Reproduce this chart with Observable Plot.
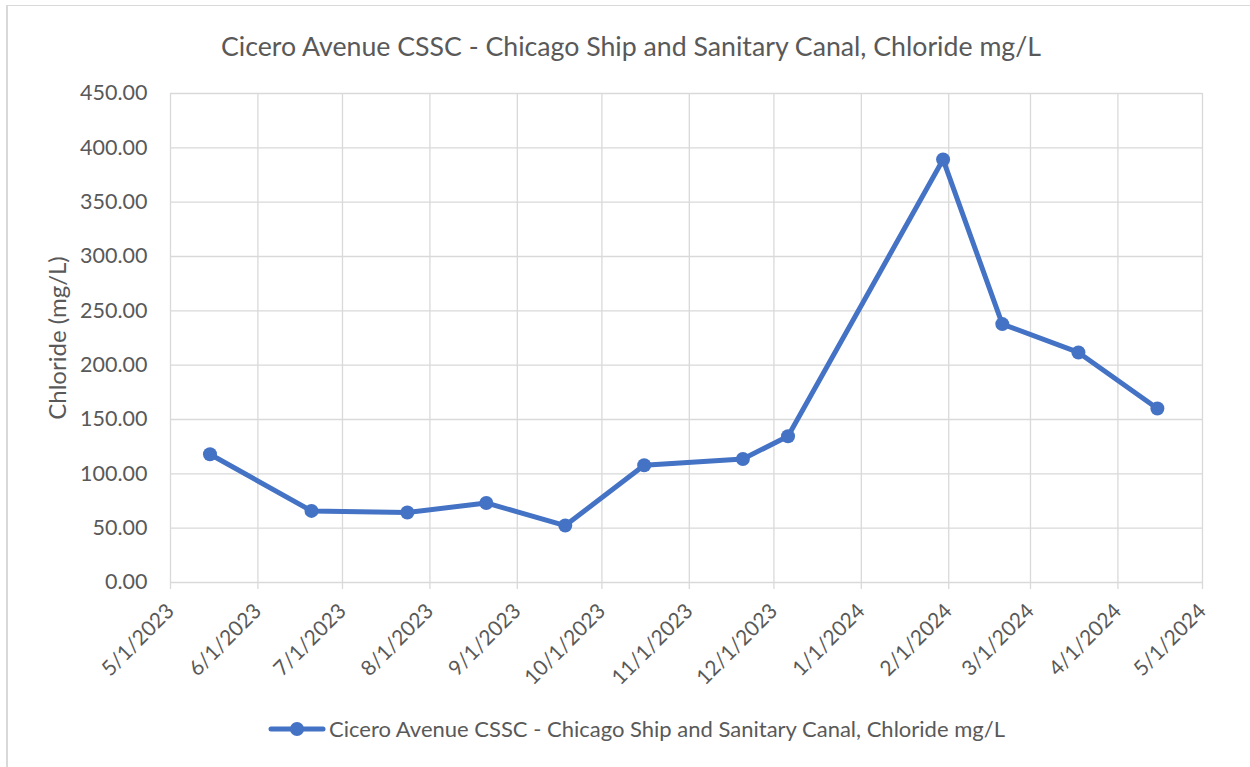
<!DOCTYPE html>
<html><head><meta charset="utf-8">
<script src="https://cdn.jsdelivr.net/npm/d3@7"></script>
<script src="https://cdn.jsdelivr.net/npm/@observablehq/plot@0.6"></script>
<style>
body{margin:0;background:#fff;font-family:Lato,"Open Sans",sans-serif;color:#595959;}
#frame{position:relative;width:1250px;height:767px;overflow:hidden;background:#fff;}
#border{position:absolute;left:6px;top:5px;width:1300px;height:800px;border-top:1.5px solid #d9d9d9;border-left:2px solid #d9d9d9;pointer-events:none;}
#title{height:80px;line-height:92px;text-align:center;font-size:26.7px;padding-left:12px;white-space:nowrap;}
#chart svg{display:block;}
#legend{height:67px;display:flex;align-items:center;padding-left:268px;font-size:22px;white-space:nowrap;margin-top:-5px;}
#legend svg{margin-right:3px;}
</style></head>
<body>
<div id="frame">
<div id="title"></div>
<div id="chart"></div>
<div id="legend"></div>
<div id="border"></div>
</div>
<script>
const seriesName = "Cicero Avenue CSSC - Chicago Ship and Sanitary Canal, Chloride mg/L";
const yLabel = "Chloride (mg/L)";
const sampleDates = ["2023-05-15","2023-06-20","2023-07-24","2023-08-21","2023-09-18","2023-10-16","2023-11-20","2023-12-06","2024-01-30","2024-02-20","2024-03-18","2024-04-15"];
const chlorideValues = [118.0, 65.9, 64.4, 73.2, 52.4, 107.9, 113.7, 134.6, 389.2, 237.8, 211.7, 160.1];
const xTickDates = ["2023-05-01","2023-06-01","2023-07-01","2023-08-01","2023-09-01","2023-10-01","2023-11-01","2023-12-01","2024-01-01","2024-02-01","2024-03-01","2024-04-01","2024-05-01"];
const yTickValues = [0,50,100,150,200,250,300,350,400,450];

const parse = d3.utcParse("%Y-%m-%d");
const data = sampleDates.map((d,i)=>({date: parse(d), value: chlorideValues[i]}));
const xTicks = xTickDates.map(parse);
const blue = "#4472C4", grid = "#d9d9d9", txt = "#595959";

document.getElementById("title").textContent = seriesName;

const chart = Plot.plot({
  width: 1250, height: 620,
  marginTop: 13, marginBottom: 118, marginLeft: 170, marginRight: 48,
  style: {fontFamily: "Lato, 'Open Sans', sans-serif", color: txt, background: "transparent"},
  x: {type: "utc", domain: [xTicks[0], xTicks[xTicks.length-1]]},
  y: {domain: [0, 450]},
  marks: [
    Plot.gridY(yTickValues, {stroke: grid, strokeOpacity: 1, strokeWidth: 1.3}),
    Plot.gridX(xTicks, {stroke: grid, strokeOpacity: 1, strokeWidth: 1.3}),
    Plot.axisY(yTickValues, {tickSize: 0, tickPadding: 23, tickFormat: d => d.toFixed(2), fontSize: 21.5, fill: txt, label: null}),
    Plot.axisX(xTicks, {tickSize: 7, stroke: grid, strokeWidth: 1.3, tickRotate: -45, tickPadding: 18, tickFormat: d3.utcFormat("%-m/%-d/%Y"), fontSize: 21, fill: txt, label: null}),
    Plot.text([yLabel], {frameAnchor: "left", dx: -112, rotate: -90, textAnchor: "middle", lineAnchor: "middle", fontSize: 24, fill: txt}),
    Plot.line(data, {x: "date", y: "value", stroke: blue, strokeWidth: 5, strokeLinejoin: "round", strokeLinecap: "round"}),
    Plot.dot(data, {x: "date", y: "value", r: 7, fill: blue, stroke: "none"})
  ]
});
document.getElementById("chart").appendChild(chart);

const lg = document.getElementById("legend");
lg.innerHTML = `<svg width="58" height="20"><line x1="3" y1="10" x2="55" y2="10" stroke="${blue}" stroke-width="5" stroke-linecap="round"/><circle cx="29" cy="10" r="7" fill="${blue}"/></svg><span></span>`;
lg.querySelector("span").textContent = seriesName;
</script>
</body></html>
